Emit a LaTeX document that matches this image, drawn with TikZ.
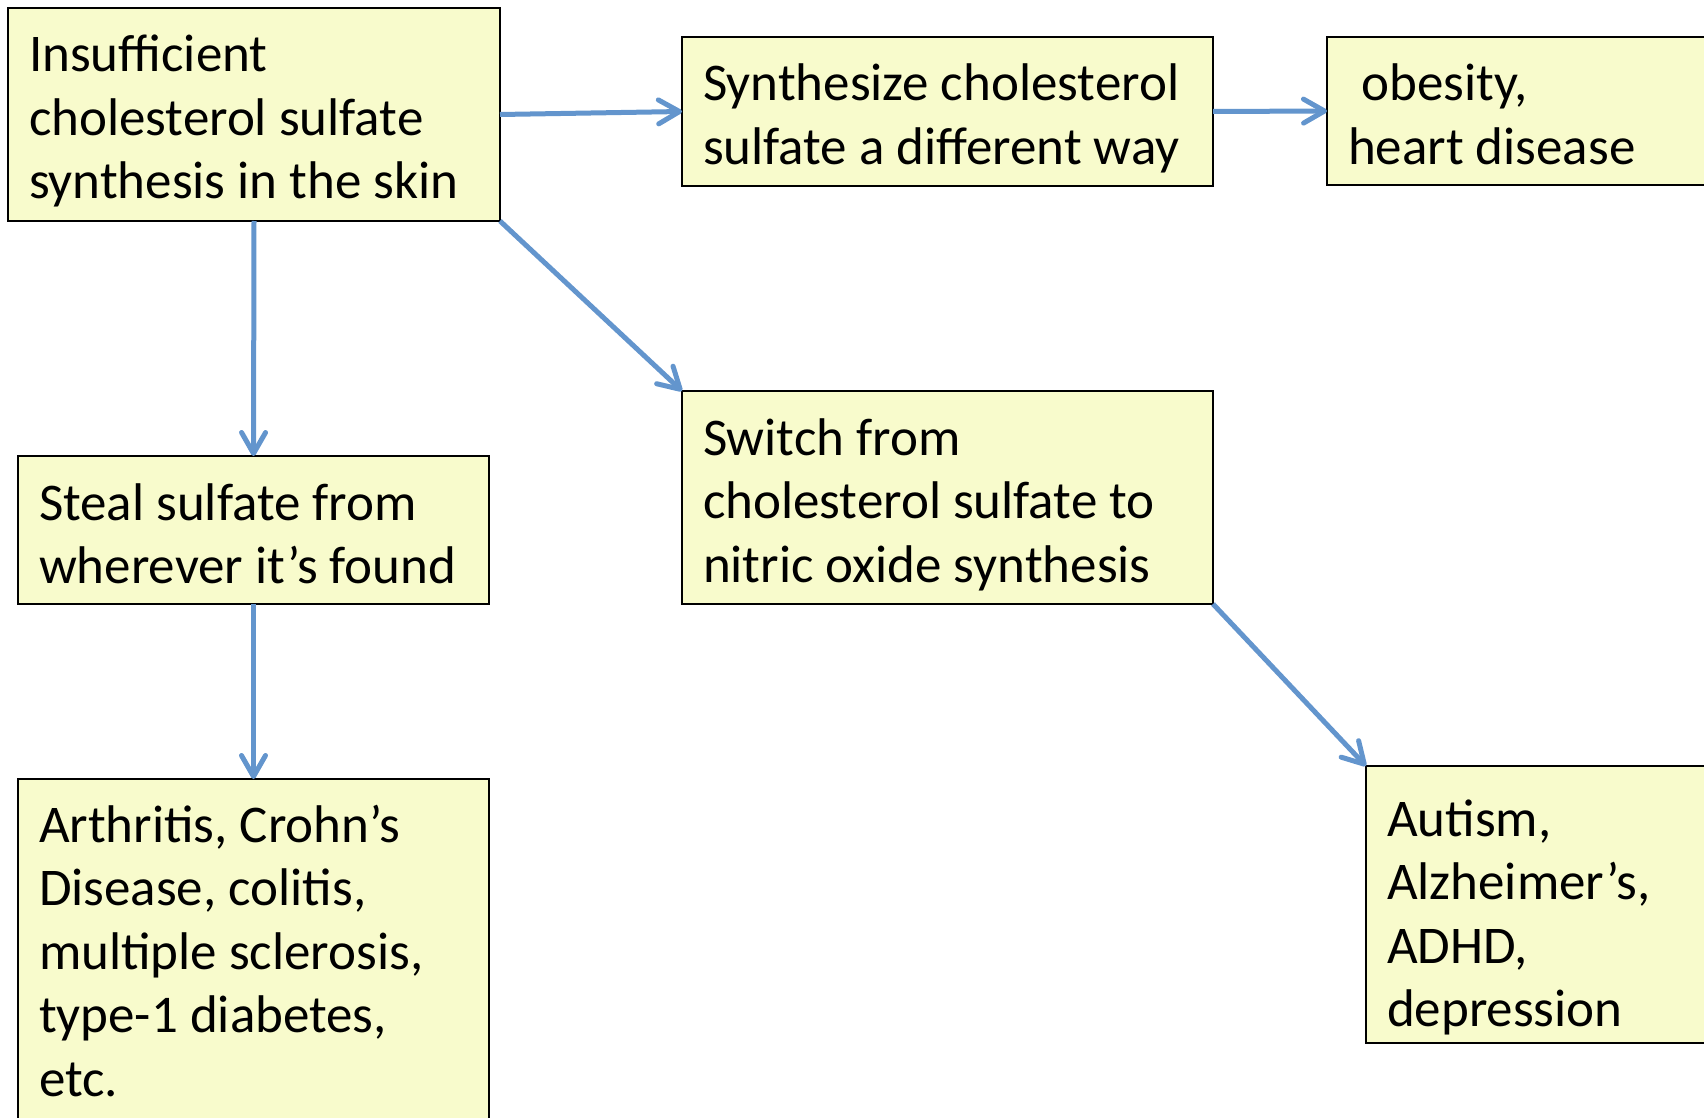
\documentclass[tikz,border=0pt]{standalone}
\usepackage{fontspec}
\setmainfont{Carlito}
\usetikzlibrary{arrows.meta}

\definecolor{boxfill}{RGB}{248,251,204}
\definecolor{linkblue}{RGB}{99,149,205}
\newcommand{\cellbox}[4][64pt]{\parbox[t][#3][t]{#2}{\raggedright\rule{0pt}{#1}#4}}

\begin{document}
\begin{tikzpicture}[x=1pt, y=-1pt,
        box/.style={draw=black, line width=2pt, fill=boxfill, anchor=north west,
            inner xsep=21pt, inner ysep=0pt, outer sep=0pt,
            font=\fontsize{53}{63.5}\selectfont},
        link/.style={linkblue, line width=5pt,
            -{Straight Barb[length=21pt, width=24pt, line cap=round, line join=round]}}]

            \useasboundingbox (0, 0) rectangle (1704, 1118);
            \clip (0, 0) rectangle (1704, 1118);

            \node[box] (A1) at (8, 8) {\cellbox{450pt}{213pt}{Insufficient\\cholesterol sulfate\\synthesis in the skin}};
            \node[box] (A2) at (682, 37) {\cellbox{489pt}{149pt}{Synthesize cholesterol\\sulfate a different way}};
            \node[box] (A3) at (1327, 37) {\cellbox{351pt}{148pt}{\hspace*{0.25em}obesity,\\heart disease}};
            \node[box] (A4) at (18, 456) {\cellbox{429pt}{148pt}{Steal sulfate from\\wherever it’s found}};
            \node[box] (A5) at (682, 391) {\cellbox{489pt}{213pt}{Switch from\\cholesterol sulfate to\\nitric oxide synthesis}};
            \node[box] (A6) at (18, 779) {\cellbox[63pt]{429pt}{400pt}{Arthritis, Crohn’s\\Disease, colitis,\\multiple sclerosis,\\type-1 diabetes,\\etc.}};
            \node[box] (A7) at (1366, 766) {\cellbox[70pt]{312pt}{277pt}{Autism,\\Alzheimer’s,\\ADHD,\\depression}};

            \draw[link] (A1.east) -- (A2.west);
            \draw[link] (A2.east) -- (A3.west);
            \draw[link] (A1.south) -- (A4.north);
            \draw[link] (A4.south) -- (A6.north);
            \draw[link] (A1.south east) -- (A5.north west);
            \draw[link] (A5.south east) -- (A7.north west);

\end{tikzpicture}
\end{document}
